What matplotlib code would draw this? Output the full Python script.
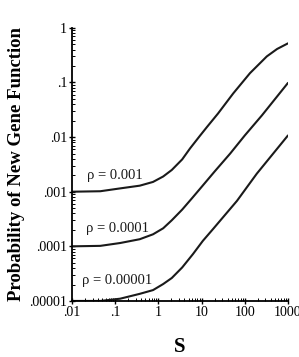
import matplotlib

matplotlib.use("Agg")
import matplotlib.pyplot as plt
from matplotlib.ticker import FixedLocator, LogLocator, NullFormatter

# values
s_top = [0.01, 0.045, 0.13, 0.37, 0.75, 1.29, 2.04, 3.55, 5.4, 9.1, 13.5, 24, 54, 132, 324, 560, 1000]
p_top = [0.001, 0.00102, 0.00115, 0.00129, 0.00151, 0.0019, 0.0025, 0.0039, 0.0062,
         0.0105, 0.0155, 0.027, 0.063, 0.148, 0.30, 0.41, 0.52]

s_mid = [0.01, 0.045, 0.13, 0.37, 0.75, 1.29, 2.04, 3.55, 6.0, 9.1, 20, 46, 100, 250, 1000]
p_mid = [1e-4, 1.02e-4, 1.15e-4, 1.35e-4, 1.66e-4, 2.14e-4, 3.0e-4, 4.7e-4, 7.6e-4,
         1.12e-3, 2.34e-3, 5.0e-3, 0.0107, 0.025, 0.098]

s_low = [0.01, 0.045, 0.13, 0.37, 0.75, 1.29, 2.04, 3.55, 6.3, 10.7, 18.2, 66, 190, 1000]
p_low = [1e-5, 1e-5, 1.1e-5, 1.35e-5, 1.58e-5, 2.04e-5, 2.63e-5, 4.1e-5, 7.2e-5,
         1.26e-4, 2.05e-4, 6.8e-4, 2.14e-3, 1.07e-2]

curve_labels = ["\u03c1 = 0.001", "\u03c1 = 0.0001", "\u03c1 = 0.00001"]
label_pos = [(0.1, 0.002), (0.11, 2.1e-4), (0.11, 2.35e-5)]

x_ticks = [0.01, 0.1, 1, 10, 100, 1000]
x_ticklabels = [".01", ".1", "1", "10", "100", "1000"]
y_ticks = [1e-5, 1e-4, 1e-3, 1e-2, 1e-1, 1]
y_ticklabels = [".00001", ".0001", ".001", ".01", ".1", "1"]

plt.rcParams["font.family"] = ["Liberation Serif", "DejaVu Serif"]

fig = plt.figure(figsize=(2.99, 3.57), dpi=100)
ax = fig.add_axes([0.241, 0.157, 0.722, 0.765])

for s, p in [(s_top, p_top), (s_mid, p_mid), (s_low, p_low)]:
    ax.plot(s, p, color="#1a1a1a", linewidth=1.5, solid_capstyle="round",
            solid_joinstyle="round")

for txt, (x, y) in zip(curve_labels, label_pos):
    ax.text(x, y, txt, fontsize=10.5, ha="center", va="center", color="#1a1a1a")

ax.set_xscale("log")
ax.set_yscale("log")
ax.set_xlim(0.01, 1000)
ax.set_ylim(1e-5, 1)

ax.xaxis.set_major_locator(FixedLocator(x_ticks))
ax.set_xticklabels(x_ticklabels)
ax.yaxis.set_major_locator(FixedLocator(y_ticks))
ax.set_yticklabels(y_ticklabels)
ax.xaxis.set_minor_locator(LogLocator(base=10, subs=range(2, 10), numticks=20))
ax.yaxis.set_minor_locator(LogLocator(base=10, subs=range(2, 10), numticks=20))
ax.xaxis.set_minor_formatter(NullFormatter())
ax.yaxis.set_minor_formatter(NullFormatter())

ax.tick_params(which="major", direction="inout", length=5, width=1, labelsize=10, pad=1)
ax.tick_params(which="minor", direction="in", length=2, width=0.7)

for side in ["top", "right"]:
    ax.spines[side].set_visible(False)
for side in ["left", "bottom"]:
    ax.spines[side].set_linewidth(1.3)

ax.set_xlabel("S", fontsize=15, fontweight="bold", labelpad=13)
ax.set_ylabel("Probability of New Gene Function", fontsize=13.5, fontweight="bold", labelpad=3)

fig.savefig("out.png", dpi=100)
